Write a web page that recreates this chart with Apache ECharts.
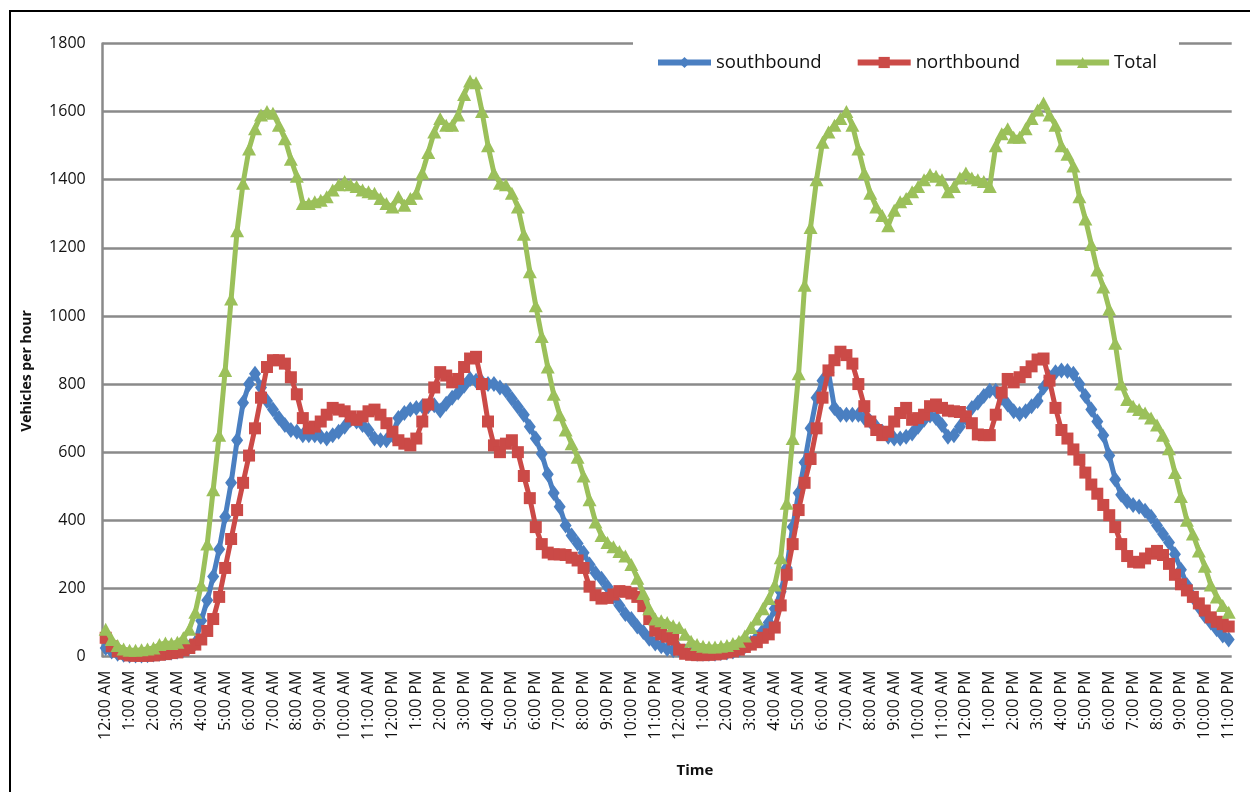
<!DOCTYPE html>
<html><head><meta charset="utf-8">
<script src="https://cdn.jsdelivr.net/npm/echarts@6/dist/echarts.min.js"></script>
<style>html,body{margin:0;padding:0;background:#fff}#c{width:1250px;height:792px}</style>
</head><body><div id="c"></div>
<script>
const hourLabels = ['12:00 AM','1:00 AM','2:00 AM','3:00 AM','4:00 AM','5:00 AM','6:00 AM','7:00 AM','8:00 AM','9:00 AM','10:00 AM','11:00 AM',
  '12:00 PM','1:00 PM','2:00 PM','3:00 PM','4:00 PM','5:00 PM','6:00 PM','7:00 PM','8:00 PM','9:00 PM','10:00 PM','11:00 PM'];
const yTicks = [0,200,400,600,800,1000,1200,1400,1600,1800];
const seriesNames = ['southbound','northbound','Total'];

const southbound = [
25,15,8,5, 3,3,3,4, 6,8,10,12, 15,20,28,40,
105,165,235,315, 410,510,635,745, 800,830,790,750, 725,700,680,665,
660,650,650,650, 645,640,650,660, 675,695,690,680, 665,640,635,635,
650,700,715,725, 730,735,735,738, 722,742,760,775, 795,815,810,805,
800,800,790,780, 757,733,710,675, 640,595,535,480, 440,385,355,332,
305,270,245,228, 205,175,150,125, 110,88,72,52, 38,30,22,18,
20,15,10,8, 8,8,8,10, 12,15,20,30, 40,55,75,100,
140,190,260,380, 480,570,670,760, 810,835,730,710, 710,710,710,700,
690,675,660,645, 640,640,645,655, 675,695,708,700, 680,645,650,675,
700,730,745,765, 780,780,760,740, 720,712,720,735, 750,790,820,835,
840,838,830,800, 765,725,690,650, 590,520,475,455, 445,440,428,410,
385,360,335,300, 255,210,175,145, 120,100,80,62, 50
];
const northbound = [
55,30,15,8, 3,2,2,2, 3,5,7,10, 12,18,25,35,
50,75,110,175, 260,345,430,510, 590,670,760,850, 870,870,860,820,
770,700,670,675, 690,710,730,725, 720,705,695,705, 720,725,710,685,
660,635,625,620, 640,690,740,790, 835,825,805,815, 850,875,880,800,
690,620,600,625, 635,600,530,465, 380,330,305,300, 300,298,290,282,
260,205,180,170, 172,182,192,190, 185,175,148,110, 76,65,58,50,
20,8,5,4, 4,5,6,8, 12,15,20,28, 35,42,55,65,
85,150,240,330, 430,510,580,670, 760,840,870,895, 885,860,800,735,
690,665,650,660, 690,715,730,695, 700,710,735,740, 730,722,720,718,
705,685,652,650, 650,710,775,815, 805,820,835,852, 872,875,810,730,
665,640,608,578, 540,505,478,445, 415,380,330,295, 278,276,288,302,
310,298,272,240, 212,194,175,156, 135,115,102,95, 88
];
const total = [
80,50,32,22, 18,18,20,22, 25,35,40,38, 42,55,80,130,
210,330,490,650, 840,1050,1250,1390, 1490,1550,1590,1600, 1595,1560,1520,1460,
1410,1330,1330,1335, 1340,1350,1370,1385, 1395,1385,1380,1370, 1365,1360,1345,1330,
1320,1350,1325,1345, 1360,1420,1480,1540, 1580,1560,1560,1590, 1650,1690,1685,1600,
1500,1420,1390,1385, 1360,1320,1240,1130, 1030,940,850,770, 710,665,625,585,
530,460,395,355, 335,322,308,295, 270,230,185,140, 110,105,100,90,
85,65,45,35, 30,28,28,30, 32,38,45,60, 85,110,140,170,
210,290,450,640, 830,1090,1260,1400, 1510,1540,1560,1580, 1600,1560,1490,1420,
1360,1320,1295,1265, 1310,1335,1345,1365, 1380,1400,1415,1410, 1400,1365,1380,1405,
1420,1405,1400,1395, 1380,1500,1535,1550, 1525,1525,1550,1580, 1605,1625,1590,1560,
1500,1475,1440,1350, 1285,1210,1135,1085, 1020,920,800,755, 735,725,715,700,
680,650,610,540, 470,400,360,310, 265,210,175,150, 130
];

const categories = [];
for (let i = 0; i < southbound.length; i++) {
  const h = Math.floor(i / 4) % 24, m = (i % 4) * 15;
  categories.push(hourLabels[h].replace(':00', ':' + String(m).padStart(2, '0')));
}

const FONT = 'Open Sans';
const colors = ['#4A7FC1', '#CB4A47', '#9BC05A'];
const symbols = [['diamond', [12, 16]], ['rect', [12, 12]], ['triangle', [14, 13]]];
const datas = [southbound, northbound, total];

const chart = echarts.init(document.getElementById('c'), null, {renderer: 'canvas'});
chart.setOption({
  animation: false,
  backgroundColor: '#fff',
  textStyle: {fontFamily: FONT},
  grid: {left: 102.7, right: 18.3, top: 43.5, bottom: 135.5, containLabel: false},
  legend: {
    data: seriesNames,
    left: 633, top: 39,
    padding: [14, 22, 14, 22],
    itemGap: 33, itemWidth: 53, itemHeight: 14,
    backgroundColor: '#fff',
    lineStyle: {width: 6},
    textStyle: {fontFamily: FONT, fontSize: 18.5, color: '#111'}
  },
  xAxis: {
    type: 'category',
    data: categories,
    boundaryGap: true,
    axisLine: {show: false},
    axisTick: {show: false},
    splitLine: {show: false},
    axisLabel: {interval: 3, rotate: 90, margin: 14, fontFamily: FONT, fontSize: 16, color: '#111'}
  },
  yAxis: {
    type: 'value',
    min: yTicks[0], max: yTicks[yTicks.length - 1], interval: yTicks[1] - yTicks[0],
    axisLine: {show: true, lineStyle: {color: '#8a8a8a', width: 2.5}},
    axisTick: {show: false},
    splitLine: {show: true, lineStyle: {color: '#8a8a8a', width: 2.5}},
    axisLabel: {margin: 17, fontFamily: FONT, fontSize: 16, color: '#111', formatter: v => String(v)}
  },
  series: seriesNames.map((n, k) => ({
    name: n,
    type: 'line',
    data: datas[k],
    symbol: symbols[k][0],
    symbolSize: symbols[k][1],
    showAllSymbol: true,
    lineStyle: {color: colors[k], width: 5},
    itemStyle: {color: colors[k], borderWidth: 0},
    emphasis: {disabled: true},
    z: 2 + k
  })),
  graphic: [
    {type: 'rect', shape: {x: 10, y: 11, width: 1300, height: 900}, style: {fill: 'none', stroke: '#000', lineWidth: 2}, z: 100, silent: true},
    {type: 'text', x: 27, y: 371, rotation: Math.PI / 2, style: {text: 'Vehicles per hour', fontFamily: FONT, fontWeight: 'bold', fontSize: 14, fill: '#111', textAlign: 'center', textVerticalAlign: 'middle'}},
    {type: 'text', x: 695, y: 771, style: {text: 'Time', fontFamily: FONT, fontWeight: 'bold', fontSize: 15, fill: '#111', textAlign: 'center', textVerticalAlign: 'middle'}}
  ]
});
</script>
</body></html>
